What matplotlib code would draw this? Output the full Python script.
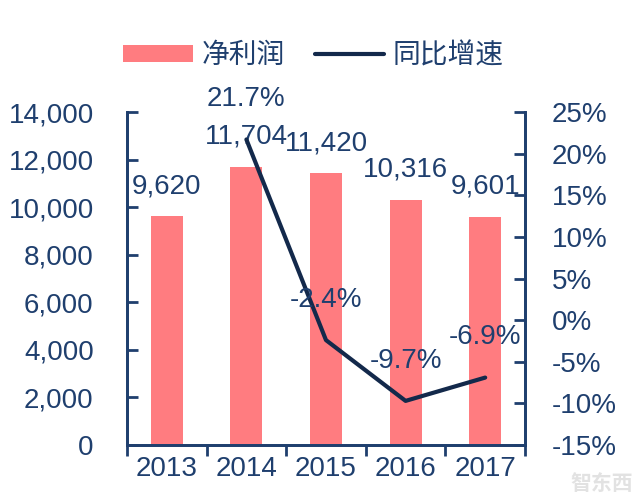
import numpy as np
import matplotlib
matplotlib.use("Agg")
import matplotlib.pyplot as plt
from matplotlib.ticker import FuncFormatter, MultipleLocator

plt.rcParams['font.family'] = ['Liberation Sans', 'Noto Sans CJK SC', 'DejaVu Sans']

years = ["2013", "2014", "2015", "2016", "2017"]
net_profit = [9620, 11704, 11420, 10316, 9601]
growth_years = ["2014", "2015", "2016", "2017"]
growth = [21.7, -2.4, -9.7, -6.9]

bar_color = "#FF7C80"
line_color = "#13294B"
text_color = "#1F3F6E"
fs = 20

fig = plt.figure(figsize=(6.4, 4.98), dpi=100)
ax = fig.add_axes([0.1984, 0.1064, 0.6219, 0.6687])
ax2 = ax.twinx()

x = np.arange(len(years))
bars = ax.bar(x, net_profit, width=0.4, color=bar_color, label="净利润", zorder=2)
for xi, v in zip(x, net_profit):
    ax.annotate(f"{v:,}", (xi, v), xytext=(0, 21.5), textcoords="offset points",
                ha="center", va="center", fontsize=fs, color=text_color)

gx = [years.index(y) for y in growth_years]
line, = ax2.plot(gx, growth, color=line_color, lw=3, solid_capstyle="round",
                 solid_joinstyle="round", label="同比增速")
for xi, v in zip(gx, growth):
    ax2.annotate(f"{v:.1f}%", (xi, v), xytext=(0, 29), textcoords="offset points",
                 ha="center", va="center", fontsize=fs, color=text_color)

ax.set_xlim(-0.5, len(years) - 0.5)
ax.set_ylim(0, 14000)
ax2.set_ylim(-15, 25)
ax.yaxis.set_major_locator(MultipleLocator(2000))
ax2.yaxis.set_major_locator(MultipleLocator(5))
ax.yaxis.set_major_formatter(FuncFormatter(lambda v, p: f"{int(v):,}"))
ax2.yaxis.set_major_formatter(FuncFormatter(lambda v, p: f"{int(v)}%"))

ax.set_xticks(x)
ax.set_xticklabels(years)
ax.set_xticks(np.arange(-0.5, len(years)), minor=True)
ax.tick_params(axis="x", which="major", length=0, pad=8, labelsize=fs, labelcolor=text_color)
ax.tick_params(axis="x", which="minor", length=8, width=2, direction="out", color=text_color)
ax.tick_params(axis="y", length=8, width=2, direction="in", pad=24, labelsize=fs,
               labelcolor=text_color, color=text_color)
ax2.tick_params(axis="y", length=8, width=2, direction="in", pad=19, labelsize=fs,
                labelcolor=text_color, color=text_color)

for a in (ax, ax2):
    a.spines["top"].set_visible(False)
    for s in ("left", "right", "bottom"):
        a.spines[s].set_color(text_color)
        a.spines[s].set_linewidth(2)

fig.legend(handles=[bars, line], loc="center", bbox_to_anchor=(0.49, 0.887),
           ncol=2, frameon=False, fontsize=fs, labelcolor=text_color,
           handlelength=2.5, handleheight=0.55, handletextpad=0.3, columnspacing=1.1)

# faint watermark, bottom right
fig.text(0.94, 0.03, "智东西", fontsize=15, color="#e2e2e2", ha="center", va="center",
         family=["Noto Sans CJK SC"], fontweight="bold")

fig.savefig("out.png", dpi=100)
